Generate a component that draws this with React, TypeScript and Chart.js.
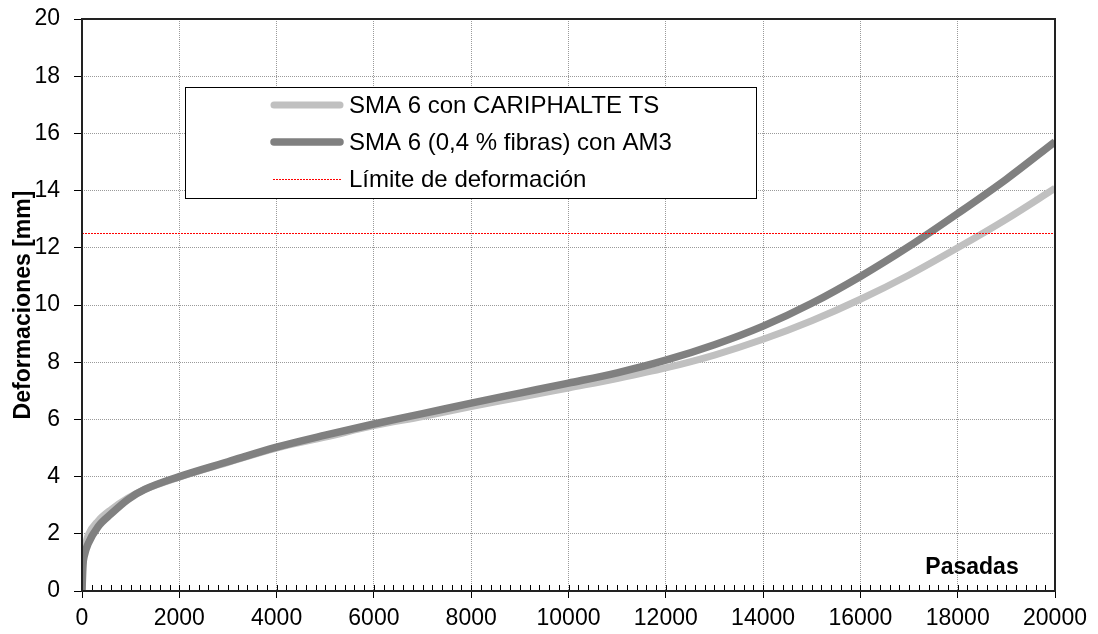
import { useEffect, useRef } from "react";
import { Chart, registerables } from "chart.js";

Chart.register(...registerables);

const pasadas = [0, 20, 50, 125, 330, 600, 945, 1290, 2000, 3000, 4000, 5000, 6000, 7000, 8000, 9000, 10000, 11000, 12000, 13000, 14000, 15000, 16000, 17000, 18000, 19000, 20000];
const cariphalte = [0, 1.2, 1.5, 1.95, 2.45, 2.85, 3.25, 3.55, 3.98, 4.5, 5.0, 5.38, 5.78, 6.1, 6.45, 6.77, 7.1, 7.43, 7.8, 8.25, 8.8, 9.45, 10.2, 11.05, 12.0, 13.0, 14.08];
const fibrasAM3 = [0, 0.9, 1.25, 1.65, 2.25, 2.7, 3.2, 3.55, 4.0, 4.52, 5.03, 5.45, 5.84, 6.2, 6.57, 6.92, 7.27, 7.63, 8.07, 8.61, 9.26, 10.06, 11.0, 12.05, 13.2, 14.4, 15.71];
const limiteX = [0, 20000];
const limiteY = [12.5, 12.5];
const seriesLabels = ["SMA 6 con CARIPHALTE TS", "SMA 6 (0,4 % fibras) con AM3", "Límite de deformación"];
const yTitle = "Deformaciones [mm]";
const xTitle = "Pasadas";

const FONT = "'Liberation Sans', Arial, Helvetica, sans-serif";
const LIGHT = "#c0c0c0";
const DARK = "#808080";
const RED = "#ff0000";

const decor = {
  id: "decor",
  afterDatasetsDraw(chart: any) {
    const { ctx, chartArea: a, scales } = chart;
    const x = scales.x;
    ctx.save();
    ctx.strokeStyle = "#000";
    ctx.lineWidth = 1;
    ctx.beginPath();
    for (let v = 0; v <= 20000; v += 200) {
      const px = Math.round(x.getPixelForValue(v)) + 0.5;
      ctx.moveTo(px, a.bottom);
      ctx.lineTo(px, a.bottom - 6);
    }
    ctx.stroke();
    ctx.strokeStyle = "#222";
    ctx.lineWidth = 2;
    ctx.strokeRect(a.left, a.top, a.right - a.left, a.bottom - a.top);
    ctx.fillStyle = "#000";
    ctx.font = `bold 23px ${FONT}`;
    ctx.textAlign = "center";
    ctx.textBaseline = "middle";
    ctx.fillText(xTitle, a.right - 83, a.bottom - 23);
    ctx.restore();
  },
  afterDraw(chart: any) {
    const { ctx, chartArea: a } = chart;
    const ds = chart.data.datasets;
    const left = a.left + 103;
    const top = a.top + 68;
    const w = 571;
    const h = 111;
    ctx.save();
    ctx.fillStyle = "#fff";
    ctx.fillRect(left, top, w, h);
    ctx.strokeStyle = "#000";
    ctx.lineWidth = 1;
    ctx.strokeRect(left + 0.5, top + 0.5, w, h);
    const rows = [
      { d: ds[2], label: seriesLabels[0] },
      { d: ds[1], label: seriesLabels[1] },
      { d: ds[0], label: seriesLabels[2] },
    ];
    rows.forEach((r, i) => {
      const y = top + 18 + i * 37;
      ctx.save();
      ctx.strokeStyle = r.d.borderColor;
      ctx.lineWidth = r.d.borderWidth;
      if (r.d.borderDash) {
        ctx.setLineDash(r.d.borderDash);
        ctx.lineCap = "butt";
        ctx.beginPath();
        ctx.moveTo(left + 88, y + 0.5);
        ctx.lineTo(left + 157, y + 0.5);
        ctx.stroke();
      } else {
        ctx.lineCap = "round";
        ctx.beginPath();
        ctx.moveTo(left + 89, y);
        ctx.lineTo(left + 155, y);
        ctx.stroke();
      }
      ctx.restore();
      ctx.fillStyle = "#000";
      ctx.font = `24px ${FONT}`;
      ctx.textAlign = "left";
      ctx.textBaseline = "middle";
      ctx.fillText(r.label, left + 164, y + 1);
    });
    ctx.restore();
  },
};

export default function App() {
  const ref = useRef<HTMLCanvasElement | null>(null);
  useEffect(() => {
    const canvas = ref.current;
    if (!canvas) return;
    const toPts = (xs: number[], ys: number[]) => xs.map((v, i) => ({ x: v, y: ys[i] }));
    const chart = new Chart(canvas, {
      type: "line",
      data: {
        datasets: [
          {
            label: seriesLabels[2],
            data: toPts(limiteX, limiteY),
            borderColor: RED,
            borderWidth: 1,
            borderDash: [2, 1],
            pointRadius: 0,
            fill: false,
          },
          {
            label: seriesLabels[1],
            data: toPts(pasadas, fibrasAM3),
            borderColor: DARK,
            borderWidth: 7.5,
            pointRadius: 0,
            cubicInterpolationMode: "monotone",
            fill: false,
          },
          {
            label: seriesLabels[0],
            data: toPts(pasadas, cariphalte),
            borderColor: LIGHT,
            borderWidth: 7,
            pointRadius: 0,
            cubicInterpolationMode: "monotone",
            fill: false,
          },
        ] as any,
      },
      options: {
        responsive: false,
        animation: false,
        devicePixelRatio: 1,
        layout: { padding: { top: 19, right: 43, left: 0, bottom: 0 } },
        plugins: { legend: { display: false }, tooltip: { enabled: false } },
        scales: {
          x: {
            type: "linear",
            min: 0,
            max: 20000,
            afterFit: (s: any) => {
              s.height = 43;
            },
            ticks: {
              stepSize: 2000,
              color: "#000",
              padding: 7,
              maxRotation: 0,
              font: { family: FONT, size: 23 },
              callback: (v: any) => String(v),
            },
            grid: {
              color: "#9a9a9a",
              lineWidth: 1,
              tickLength: 7,
              tickColor: "#000",
              tickWidth: 1,
              tickBorderDash: [],
            } as any,
            border: { display: false, dash: [1, 1] },
          },
          y: {
            type: "linear",
            min: 0,
            max: 20,
            afterFit: (s: any) => {
              s.width = 82;
              s.paddingTop = 0;
              s.paddingBottom = 0;
            },
            title: {
              display: true,
              text: yTitle,
              color: "#000",
              font: { family: FONT, size: 23, weight: "bold" },
              padding: { top: 10, bottom: 0 },
            },
            ticks: {
              stepSize: 2,
              color: "#000",
              padding: 14,
              font: { family: FONT, size: 23 },
            },
            grid: {
              color: "#9a9a9a",
              lineWidth: 1,
              tickLength: 8,
              tickColor: "#000",
              tickWidth: 1,
              tickBorderDash: [],
            } as any,
            border: { display: false, dash: [1, 1] },
          },
        },
      },
      plugins: [decor],
    } as any);
    return () => chart.destroy();
  }, []);
  return (
    <div style={{ position: "fixed", left: 0, top: 0, width: 1098, height: 634, background: "#fff" }}>
      <canvas ref={ref} width={1098} height={634} style={{ display: "block" }} />
    </div>
  );
}
